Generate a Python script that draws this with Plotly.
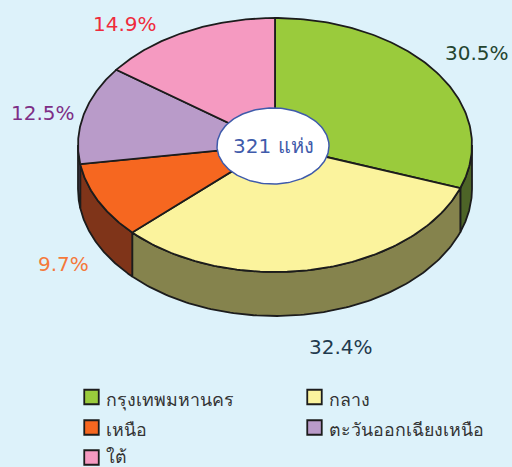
import numpy as np
import plotly.graph_objects as go

categories = ["กรุงเทพมหานคร", "กลาง", "เหนือ", "ตะวันออกเฉียงเหนือ", "ใต้"]
shares = [30.5, 32.4, 9.7, 12.5, 14.9]
share_labels = ["30.5%", "32.4%", "9.7%", "12.5%", "14.9%"]
centre_label = "321 แห่ง"

top_colors = ["#9acb3c", "#fbf39d", "#f66720", "#b99bc9", "#f59ac1"]
wall_colors = ["#4d6427", "#85834d", "#7f3419", "#5c4866", "#7a4d60"]
label_colors = ["#24452f", "#1f3a4d", "#f5793a", "#7d2e86", "#ef2b3c"]
label_xy = [(477, 53), (341, 347), (63, 264), (43, 113), (125, 24)]
legend_xy = [(91.5, 397), (314.5, 397), (91.5, 427.5), (314.5, 427.5), (91.5, 457.5)]
legend_text_y = [399.5, 399.5, 429.5, 429.5, 456.5]

BG = "#ddf2fa"
EDGE = "#1c1c1c"
FONT = "DejaVu Sans, Noto Sans, sans-serif"
CX, CY, RX, RY, DEPTH = 275, 145, 197, 127, 44
HX, HY, HRX, HRY = 273, 146, 56, 38


def arc(a0, a1, dy=0, n=120):
    t = np.radians(np.linspace(a0, a1, n))
    return CX + RX * np.sin(t), CY + dy - RY * np.cos(t)


fig = go.Figure()
edges = np.concatenate([[0], np.cumsum(shares)]) * 3.6

# side walls: only the part of each slice that faces the viewer (90-270 deg)
for i in range(len(shares)):
    a0, a1 = max(edges[i], 90), min(edges[i + 1], 270)
    if a1 <= a0:
        continue
    x1, y1 = arc(a0, a1)
    x2, y2 = arc(a1, a0, DEPTH)
    fig.add_trace(go.Scatter(
        x=np.r_[x1, x2, x1[0]], y=np.r_[y1, y2, y1[0]], mode="lines", fill="toself",
        fillcolor=wall_colors[i], line=dict(color=EDGE, width=1.8),
        hoverinfo="skip", showlegend=False))

# top faces
for i in range(len(shares)):
    x, y = arc(edges[i], edges[i + 1])
    fig.add_trace(go.Scatter(
        x=np.r_[CX, x, CX], y=np.r_[CY, y, CY], mode="lines", fill="toself",
        fillcolor=top_colors[i], line=dict(color=EDGE, width=1.8),
        name=categories[i], hoverinfo="name", showlegend=False))

# legend swatches and labels
for i, c in enumerate(categories):
    lx, ly = legend_xy[i]
    fig.add_trace(go.Scatter(
        x=[lx], y=[ly], mode="markers", name=c, showlegend=False, hoverinfo="name",
        marker=dict(symbol="square", size=14.5, color=top_colors[i], line=dict(color=EDGE, width=1.8))))
    fig.add_annotation(x=lx + 12.5, y=legend_text_y[i], text=c, showarrow=False, xanchor="left",
                       font=dict(size=17.8, color="#333333", family=FONT))

# centre ellipse
t = np.radians(np.linspace(0, 360, 181))
fig.add_trace(go.Scatter(
    x=HX + HRX * np.cos(t), y=HY + HRY * np.sin(t), mode="lines", fill="toself",
    fillcolor="white", line=dict(color="#3f5bab", width=1.5), hoverinfo="skip", showlegend=False))

for (x, y), s, c in zip(label_xy, share_labels, label_colors):
    fig.add_annotation(x=x, y=y, text=s, showarrow=False, font=dict(size=20, color=c, family=FONT))
fig.add_annotation(x=HX, y=HY, text=centre_label, showarrow=False,
                   font=dict(size=20, color="#3f5bab", family=FONT))

fig.update_layout(
    width=512, height=467, margin=dict(l=0, r=0, t=0, b=0),
    paper_bgcolor=BG, plot_bgcolor=BG, showlegend=False,
    xaxis=dict(range=[0, 512], visible=False, fixedrange=True),
    yaxis=dict(range=[467, 0], visible=False, fixedrange=True),
    font=dict(family=FONT),
)
fig.write_html("out.html", config={"displayModeBar": False},
               post_script="document.body.style.margin='0';document.body.style.overflow='hidden';")
